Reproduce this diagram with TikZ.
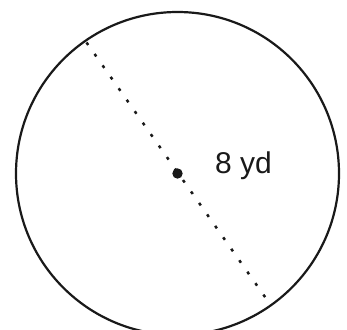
\documentclass[tikz,border=0pt]{standalone}
\usepackage{fontspec}
\setmainfont{Liberation Sans}
\usetikzlibrary{calc}
\tikzset{
  rim/.style={line width=2.2pt, draw=black!90},
  diam/.style={line width=2.5pt, dash pattern=on 3pt off 11pt, draw=black!90},
  lbl/.style={font=\fontsize{30}{34}\selectfont, inner sep=0pt, text=black!90}
}
\begin{document}
\begin{tikzpicture}[x=1pt,y=-1pt]
\useasboundingbox (0,0) rectangle (347,329);
\coordinate (c) at (177.5,173.5);
\draw[rim] (c) circle (161.5);
\coordinate (p1) at ($(c)+(-91,-131)$);
\coordinate (p2) at ($(c)+(90,127)$);
\draw[diam] (p1) -- (p2);
\fill[black!90] (c) circle (5.2);
\node[lbl, anchor=base west] (t) at (215,173) {8 yd};
\end{tikzpicture}
\end{document}
